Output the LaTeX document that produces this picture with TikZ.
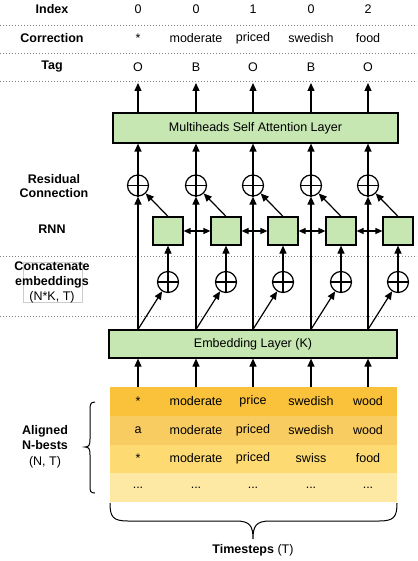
\documentclass[tikz,border=0pt]{standalone}
\usepackage{fontspec}
\setmainfont{Liberation Sans}
\usetikzlibrary{arrows.meta}
\definecolor{boxgreen}{HTML}{C6E6B2}
\definecolor{rowA}{HTML}{F9C23A}
\definecolor{rowB}{HTML}{F9CC62}
\definecolor{rowC}{HTML}{FDDB72}
\definecolor{rowD}{HTML}{FEE9A4}
\def\mydots{...}
\begin{document}
\begin{tikzpicture}[x=1pt,y=-1pt,
  font=\fontsize{12.5}{15}\selectfont,
  arr/.style={line width=1.2pt, -{Triangle[length=8pt,width=7pt]}},
  biarr/.style={line width=1.2pt, {Triangle[length=7pt,width=6pt]}-{Triangle[length=7pt,width=6pt]}},
  greenbox/.style={draw, line width=1.2pt, fill=boxgreen, inner sep=0pt},
  plusnode/.style={circle, draw, line width=1.2pt, minimum size=21pt, inner sep=0pt},
  sepline/.style={gray, line width=0.8pt, dash pattern=on 0.8pt off 2.2pt},
  lbl/.style={font=\fontsize{12.5}{15}\selectfont\bfseries, align=center},
  rowbox/.style={minimum width=287pt, minimum height=28.75pt, inner sep=0pt, anchor=north west},
  brace/.style={line width=1pt}
]
\useasboundingbox (0,0) rectangle (417,561);

% separators
\foreach \y in {25.6,53.5,81,256.7,316.7}
  \draw[sepline] (0,\y) -- (417,\y);

% left labels
\node[lbl] (lIndex) at (52,9.5) {Index};
\node[lbl] (lCorr) at (52,38) {Correction};
\node[lbl] (lTag) at (52,67) {Tag};
\node[lbl, font=\fontsize{12.5}{14}\selectfont\bfseries] (lRes) at (54,186) {Residual\\Connection};
\node[lbl] (lRnn) at (52,229) {RNN};
\node[draw=gray!40, line width=0.6pt, minimum width=59pt, minimum height=40pt, inner sep=0pt] (catbox) at (52.5,282) {};
\node[align=center] (lCat) at (52,282) {\textbf{Concatenate}\\\textbf{embeddings}\\(N*K, T)};
\node[align=center] (lNb) at (45,447) {\textbf{Aligned}\\\textbf{N-bests}\\[1pt](N, T)};

% top rows
\foreach \i/\x/\a/\b/\c in {1/138/0/*/O, 2/196/0/moderate/B, 3/253/1/priced/O, 4/311/0/swedish/B, 5/368/2/food/O} {
  \node (idx\i) at (\x,9.5) {\a};
  \node (cor\i) at (\x,38) {\b};
  \node (tag\i) at (\x,67) {\c};
}

% layers
\node[greenbox, minimum width=285pt, minimum height=30pt] (att) at (255.5,128) {Multiheads Self Attention Layer};
\node[greenbox, minimum width=288pt, minimum height=28pt] (emb) at (253,344) {Embedding Layer (K)};

% table
\node[rowbox, fill=rowA] (row1) at (110,387) {};
\node[rowbox, fill=rowB] (row2) at (110,415.75) {};
\node[rowbox, fill=rowC] (row3) at (110,444.5) {};
\node[rowbox, fill=rowD] (row4) at (110,473.25) {};
\foreach \i/\x/\a/\b/\c in {1/138/*/a/*, 2/196/moderate/moderate/moderate, 3/253/price/priced/priced, 4/311/swedish/swedish/swiss, 5/368/wood/wood/food} {
  \node (ta\i) at (\x,401.5) {\a};
  \node (tb\i) at (\x,430) {\b};
  \node (tc\i) at (\x,458.5) {\c};
  \node (td\i) at (\x,487.5) {\mydots};
}

% columns
\foreach \i/\x in {1/138,2/196,3/253,4/311,5/368} {
  \pgfmathsetmacro{\rx}{\x+30}
  \node[plusnode] (res\i) at (\x,185.5) {};
  \draw[line width=1.2pt] (res\i.north) -- (res\i.south) (res\i.west) -- (res\i.east);
  \node[greenbox, minimum width=30pt, minimum height=28pt] (rnn\i) at (\rx,231) {};
  \node[plusnode] (cat\i) at (\rx,282) {};
  \draw[line width=1.2pt] (cat\i.north) -- (cat\i.south) (cat\i.west) -- (cat\i.east);
  \coordinate (top\i) at (\x,83);
  \coordinate (bot\i) at (\x,387);
  % arrows
  \draw[arr] (bot\i) -- (bot\i |- emb.south);
  \draw[arr] (emb.north -| res\i) -- (res\i.south);
  \draw[arr] (emb.north -| res\i) -- (cat\i);
  \draw[arr] (cat\i.north) -- (rnn\i.south);
  \draw[arr] (rnn\i.north) -- (res\i);
  \draw[arr] (res\i.north) -- (att.south -| res\i);
  \draw[arr] (att.north -| res\i) -- (top\i);
}
\foreach \i/\j in {1/2,2/3,3/4,4/5}
  \draw[biarr] (rnn\i.east) -- (rnn\j.west);

% braces
\draw[brace] (95,402) .. controls (90,402) and (90,405) .. (90,411) -- (90,439) .. controls (90,445) and (89,447) .. (85,447) .. controls (89,447) and (90,449) .. (90,455) -- (90,485) .. controls (90,491) and (90,493) .. (95,493);
\draw[brace] (110,503) .. controls (110,517) and (113,521) .. (128,521) -- (236,521) .. controls (250,521) and (253,526) .. (253,539) .. controls (253,526) and (256,521) .. (270,521) -- (379,521) .. controls (394,521) and (397,517) .. (397,503);
\node (ts) at (253,550) {\textbf{Timesteps} (T)};
\end{tikzpicture}
\end{document}
